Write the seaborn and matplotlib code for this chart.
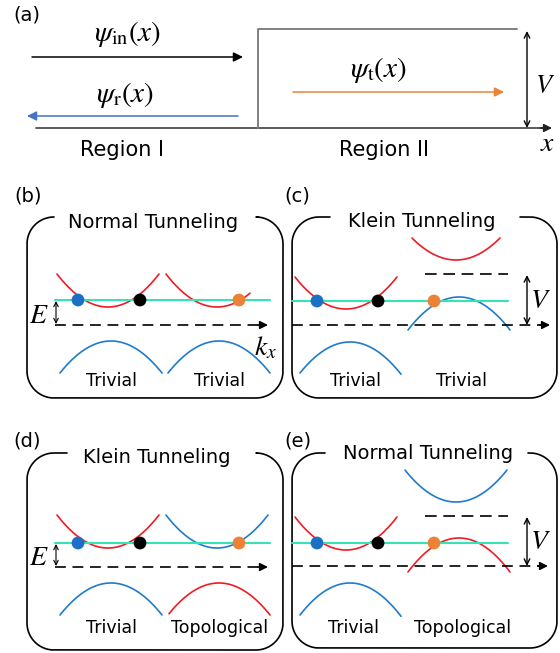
import numpy as np
import pandas as pd
import matplotlib.pyplot as plt
import seaborn as sns

sns.set_theme(style="white")
plt.rcParams['font.family'] = ['DejaVu Sans']
plt.rcParams['mathtext.fontset'] = 'stix'
plt.rcParams['text.color'] = 'black'

RED = '#ee1c25'
BLUE = '#1f7bcb'
CYAN = '#35e3b5'
ORANGE = '#ec8236'
DOT_BLUE = '#1c6fc4'
COLORS = {'r': RED, 'b': BLUE}

# ---- panel (a): step potential ----
wave_labels = [r'$\psi_{\rm in}(x)$', r'$\psi_{\rm r}(x)$', r'$\psi_{\rm t}(x)$']
wave_colors = ['black', '#4472c4', ORANGE]
region_labels = ['Region I', 'Region II']

# ---- panels (b)-(e): band sketches ----
panel_tags = ['(b)', '(c)', '(d)', '(e)']
panel_titles = ['Normal Tunneling', 'Klein Tunneling', 'Klein Tunneling', 'Normal Tunneling']
left_phase = ['Trivial', 'Trivial', 'Trivial', 'Trivial']
right_phase = ['Trivial', 'Trivial', 'Topological', 'Topological']

# band: (k_from, k_to, k_vertex, half_width, E_vertex, E_edge, colour)
# k in px from figure left, E in px above the dashed E=0 line
bands_b = [(57, 159, 108, 51, 18, 51, 'r'), (166, 250, 217, 51, 18, 51, 'r'),
           (60, 162, 111, 51, -16, -48, 'b'), (168, 270, 219, 51, -16, -48, 'b')]
bands_c = [(295, 397, 346, 51, 16, 48, 'r'), (300, 401, 350, 50, -17, -48, 'b'),
           (412, 500, 456, 44, 65, 87, 'r'), (408, 510, 459, 51, 28, -5, 'b')]
bands_d = [(57, 159, 108, 51, 19, 52, 'r'), (166, 268, 217, 51, 19, 52, 'b'),
           (60, 162, 111, 51, -16, -48, 'b'), (169, 270, 219, 51, -16, -48, 'r')]
bands_e = [(295, 397, 346, 51, 16, 49, 'r'), (300, 401, 350, 50, -17, -49, 'b'),
           (405, 507, 456, 51, 64, 96, 'b'), (408, 510, 459, 51, 28, -6, 'r')]
panel_bands = [bands_b, bands_c, bands_d, bands_e]

fermi_E = [25, 24, 24, 23]           # cyan line energy
barrier_V = [None, 51, None, 50]     # shifted band edge (upper dashed line)
dot_k = [(78, 140, 239), (317, 378, 434), (78, 140, 239), (317, 378, 434)]

# layout (px)
zero_y = [325, 325, 567, 566]
k_span = [(55, 268), (292, 550), (55, 268), (292, 548)]
boxes = [(27, 283, 217, 398, 50, 258), (292, 557, 217, 398, 330, 520),
         (27, 283, 453, 650, 67, 257), (292, 557, 453, 648, 325, 528)]
title_pos = [(153, 228), (422, 227), (157, 463), (428, 459)]
tag_pos = [(28, 196), (297, 196), (27, 441), (298, 441)]
phase_y = [386, 386, 633, 633]
phase_x = [(111, 219), (355, 461), (111, 220), (354, 463)]

fig = plt.figure(figsize=(5.6, 6.53), dpi=100)
ax = fig.add_axes([0, 0, 1, 1])
ax.set_xlim(0, 560)
ax.set_ylim(653, 0)
ax.axis('off')


def arrow(x0, y0, x1, y1, color='black', style='-|>', lw=1.1, ms=14):
    ax.annotate('', xy=(x1, y1), xytext=(x0, y0),
                arrowprops=dict(arrowstyle=style, color=color, lw=lw,
                                mutation_scale=ms, shrinkA=0, shrinkB=0))


def rounded_box(left, right, top, bottom, gap_l, gap_r, r=27):
    t = np.linspace(0, np.pi / 2, 40)
    xs = [gap_r]
    ys = [top]
    cx, cy = right - r, top + r
    xs += list(cx + r * np.sin(t)); ys += list(cy - r * np.cos(t))
    cx, cy = right - r, bottom - r
    xs += list(cx + r * np.cos(t)); ys += list(cy + r * np.sin(t))
    cx, cy = left + r, bottom - r
    xs += list(cx - r * np.sin(t)); ys += list(cy + r * np.cos(t))
    cx, cy = left + r, top + r
    xs += list(cx - r * np.cos(t)); ys += list(cy - r * np.sin(t))
    xs.append(max(gap_l, left + r)); ys.append(top)
    ax.plot(xs, ys, color='black', lw=1.2, solid_capstyle='round')


# ---- panel (a) ----
ax.text(27, 15, '(a)', fontsize=14, ha='center', va='center')
ax.plot([36, 545], [128, 128], color='#404040', lw=1.2)
arrow(540, 128, 552, 128, color='#202020', ms=12)
ax.plot([258, 258, 517], [128, 29, 29], color='#808080', lw=1.4)
arrow(527, 128, 527, 31, style='<->', lw=1.0, ms=10)
arrow(32, 57, 243, 57, color=wave_colors[0])
arrow(238, 116, 27, 116, color=wave_colors[1])
arrow(293, 92, 504, 92, color=wave_colors[2])
ax.text(128, 41, wave_labels[0], fontsize=21, ha='center', va='baseline')
ax.text(125, 102, wave_labels[1], fontsize=21, ha='center', va='baseline')
ax.text(378, 77, wave_labels[2], fontsize=21, ha='center', va='baseline')
ax.text(535, 93, r'$V$', fontsize=19, ha='left', va='baseline')
ax.text(548, 151, r'$x$', fontsize=20, ha='center', va='baseline')
ax.text(122, 156, region_labels[0], fontsize=15, ha='center', va='baseline')
ax.text(384, 156, region_labels[1], fontsize=15, ha='center', va='baseline')

# ---- panels (b)-(e) ----
for i in range(4):
    y0 = zero_y[i]
    rounded_box(*boxes[i])
    ax.text(*tag_pos[i], panel_tags[i], fontsize=14, ha='center', va='center')
    ax.text(*title_pos[i], panel_titles[i], fontsize=14, ha='center', va='baseline')
    ax.text(phase_x[i][0], phase_y[i], left_phase[i], fontsize=12.5, ha='center', va='baseline')
    ax.text(phase_x[i][1], phase_y[i], right_phase[i], fontsize=12.5, ha='center', va='baseline')

    for k0, k1, kv, hw, ev, ee, c in panel_bands[i]:
        k = np.linspace(k0, k1, 120)
        E = ev + (ee - ev) * ((k - kv) / hw) ** 2
        sns.lineplot(x=k, y=y0 - E, ax=ax, color=COLORS[c], lw=1.2, sort=False, estimator=None)

    ka, kb = k_span[i]
    ax.plot([ka, kb - 8], [y0, y0], color='black', lw=1.2, dashes=(6.5, 4))
    arrow(kb - 10, y0, kb, y0, ms=12)

    ef = y0 - fermi_E[i]
    ax.plot([ka, 270 if i % 2 == 0 else 508], [ef, ef], color=CYAN, lw=1.5, zorder=3)

    dots = pd.DataFrame({'k': dot_k[i], 'E': [ef] * 3})
    ax.scatter(dots['k'], dots['E'], s=85, c=[DOT_BLUE, 'black', ORANGE], zorder=5, linewidths=0)

    if barrier_V[i] is None:
        arrow(ka + 1, ef + 1, ka + 1, y0 - 1, style='<->', lw=0.8, ms=8)
        ax.text(39, y0 - 2, r'$E$', fontsize=20, ha='center', va='baseline')
        if i == 0:
            ax.text(266, 355, r'$k_x$', fontsize=20, ha='center', va='baseline')
    else:
        yv = y0 - barrier_V[i]
        ax.plot([425, 508], [yv, yv], color='black', lw=1.2, dashes=(7, 4))
        arrow(527, yv + 1, 527, y0, style='<->', lw=1.0, ms=10)
        ax.text(541, y0 - 17, r'$V$', fontsize=20, ha='center', va='baseline')

fig.savefig('out.png', dpi=100)
